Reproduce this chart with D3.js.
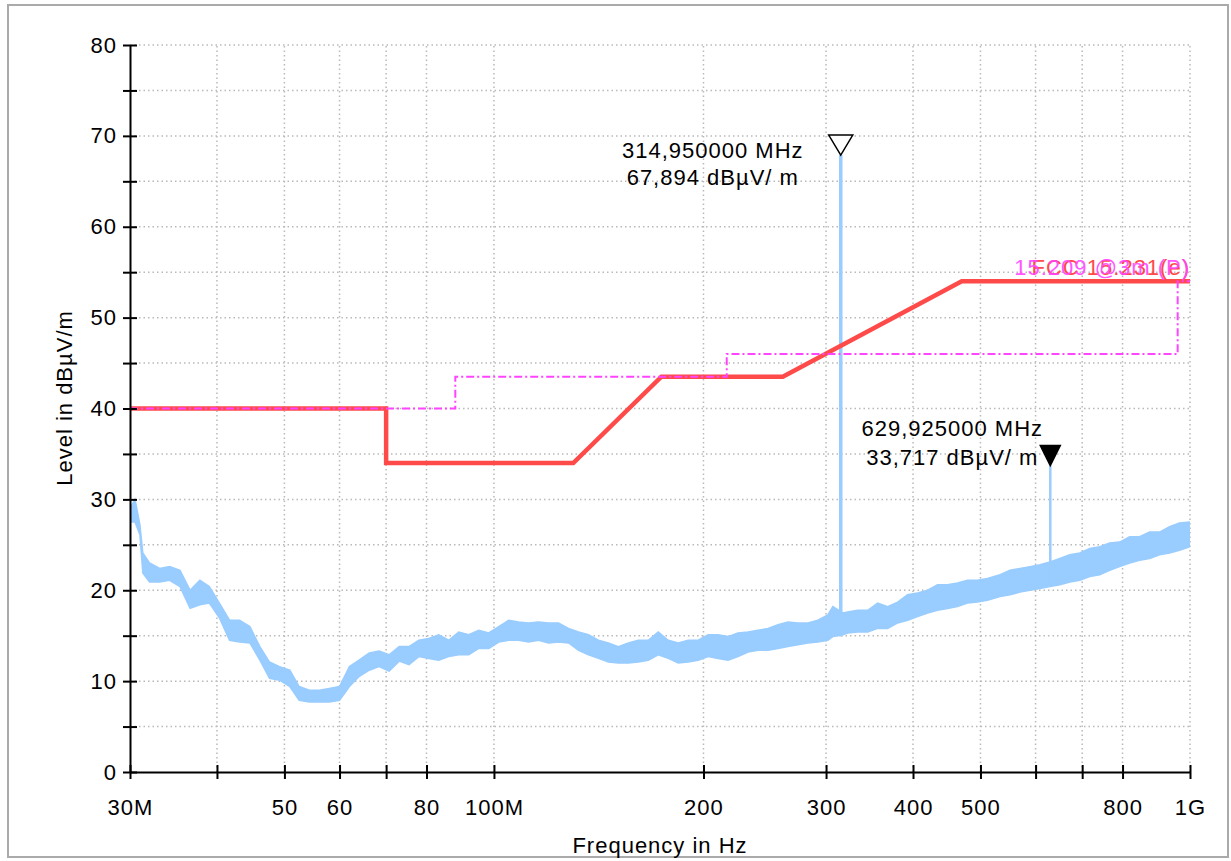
<!DOCTYPE html>
<html>
<head>
<meta charset="utf-8">
<script src="https://cdn.jsdelivr.net/npm/d3@7"></script>
<style>
body { margin: 0; background: #fff; }
svg text { font-family: "Liberation Sans", Arial, sans-serif; font-size: 22px; letter-spacing: 1px; fill: #000; }
</style>
</head>
<body>
<svg id="chart" width="1231" height="861"></svg>
<script>
// peak scan, envelope of the noisy trace (MHz / dBuV/m)
var traceFreq = [30.0, 30.5, 31.0, 31.3, 32.0, 33.1, 34.2, 35.4, 36.6, 37.8, 39.0, 40.3, 41.7, 43.1, 44.6, 46.1, 47.6, 49.2, 50.9, 52.5,
	54.3, 56.1, 58.0, 60.0, 62.0, 64.0, 66.2, 68.4, 70.7, 73.1, 75.5, 78.0, 80.6, 83.3, 86.1, 89.0, 92.0, 95.1, 98.3, 101.6,
	105.0, 108.5, 112.1, 115.9, 119.8, 123.8, 128.0, 132.3, 136.7, 141.3, 146.0, 150.9, 156.0, 161.2, 166.6, 172.2, 178.0, 184.0, 190.1, 196.5,
	203.1, 209.9, 216.9, 224.2, 231.8, 239.5, 247.6, 255.9, 264.5, 273.3, 282.5, 292.0, 301.8, 306.8, 317.1, 322.3, 333.1, 344.3, 355.9, 367.8,
	380.2, 392.9, 406.1, 419.8, 433.8, 448.4, 463.4, 479.0, 495.0, 511.6, 533.5, 551.4, 569.9, 589.0, 608.7, 629.2, 650.2, 672.0, 694.6, 717.8,
	741.9, 766.7, 792.4, 819.0, 846.5, 874.8, 904.2, 934.6, 965.6, 1000];
var traceLow = [27.5, 27.5, 26.1, 21.9, 20.9, 20.9, 21.1, 20.4, 18.0, 18.4, 18.6, 17.0, 14.5, 14.3, 14.2, 12.3, 10.3, 10.1, 9.4, 7.9,
	7.7, 7.7, 7.7, 7.9, 9.4, 10.5, 11.2, 11.6, 11.1, 12.2, 11.8, 12.7, 12.5, 12.3, 12.7, 12.9, 12.9, 13.6, 13.6, 14.3,
	14.5, 14.5, 14.3, 14.5, 14.2, 14.3, 14.2, 13.4, 12.9, 12.5, 12.1, 12.0, 12.0, 12.1, 12.3, 12.9, 12.5, 12.0, 12.1, 12.3,
	12.7, 12.5, 12.3, 12.7, 13.2, 13.4, 13.4, 13.6, 13.8, 14.0, 14.2, 14.3, 14.5, 14.9, 15.1, 15.3, 15.4, 15.4, 15.8, 15.8,
	16.4, 16.7, 17.1, 17.5, 17.8, 18.0, 18.2, 18.6, 18.7, 18.9, 19.3, 19.5, 19.8, 20.0, 20.2, 20.4, 20.6, 20.9, 21.1, 21.5,
	21.7, 22.2, 22.6, 23.0, 23.3, 23.5, 23.9, 24.1, 24.4, 24.8];
var traceHigh = [29.0, 30.0, 27.2, 24.1, 23.0, 22.4, 22.6, 22.2, 20.0, 21.1, 20.4, 18.6, 16.7, 16.7, 16.0, 13.8, 12.1, 11.6, 11.2, 9.4,
	9.0, 9.0, 9.2, 9.4, 11.6, 12.3, 13.1, 13.3, 12.9, 13.8, 13.8, 14.5, 14.7, 15.1, 14.5, 15.4, 15.1, 15.6, 15.3, 16.0,
	16.7, 16.5, 16.4, 16.5, 16.4, 16.4, 15.8, 15.4, 15.1, 14.5, 14.2, 13.8, 14.2, 14.5, 14.5, 15.4, 14.5, 14.2, 14.5, 14.5,
	15.1, 15.1, 14.9, 15.3, 15.4, 15.6, 15.8, 16.2, 16.5, 16.4, 16.4, 16.7, 17.3, 18.2, 17.5, 17.6, 17.8, 17.8, 18.6, 18.2,
	18.7, 19.5, 19.7, 20.0, 20.6, 20.6, 20.8, 21.1, 21.1, 21.3, 21.7, 22.2, 22.4, 22.6, 22.8, 23.1, 23.5, 23.9, 24.1, 24.6,
	24.8, 25.2, 25.3, 25.9, 25.9, 26.4, 26.4, 27.0, 27.4, 27.5];

// limit lines
var limitAFreq = [30, 70, 70, 130, 174, 260, 470, 1000];
var limitALevel = [40, 40, 34, 34, 43.5, 43.5, 54, 54];
var limitAName = "FCC 15.231(e)";
var limitBFreq = [30, 88, 88, 216, 216, 960, 960, 1000];
var limitBLevel = [40, 40, 43.5, 43.5, 46, 46, 54, 54];
var limitBName = "15.209 @3m (P)";

// markers
var markerFreq = [314.95, 629.925];
var markerLevel = [67.894, 33.717];

// axes
var xTickValues = [30, 40, 50, 60, 70, 80, 100, 200, 300, 400, 500, 600, 700, 800, 1000];
var xTickLabels = ["30M", "", "50", "60", "", "80", "100M", "200", "300", "400", "500", "", "", "800", "1G"];
var yTickValues = [0, 5, 10, 15, 20, 25, 30, 35, 40, 45, 50, 55, 60, 65, 70, 75, 80];
var yTickLabels = ["0", "", "10", "", "20", "", "30", "", "40", "", "50", "", "60", "", "70", "", "80"];

(function()
{
	var svg = d3.select("#chart");

	var pLeft = 130, pRight = 1190, pTop = 45, pBottom = 772;

	var x = d3.scaleLog().domain([30, 1000]).range([pLeft, pRight]);
	var y = d3.scaleLinear().domain([0, 80]).range([pBottom, pTop]);

	var fmt = d3.formatLocale({ decimal: ",", thousands: ".", grouping: [3], currency: ["", ""] });

	// outer frame
	svg.append("rect")
		.attr("x", 8).attr("y", 5).attr("width", 1220).attr("height", 852)
		.attr("fill", "#fff").attr("stroke", "#aaaaaa").attr("stroke-width", 2);

	svg.append("clipPath").attr("id", "plotclip")
		.append("rect").attr("x", pLeft).attr("y", pTop).attr("width", pRight - pLeft).attr("height", pBottom - pTop);

	// dotted grid
	var grid = svg.append("g").attr("stroke", "#b9b9b9").attr("stroke-width", 1.5).attr("stroke-dasharray", "1.5,3");
	grid.selectAll(".vg").data(xTickValues.slice(1)).enter().append("line")
		.attr("x1", function(d) { return x(d); }).attr("x2", function(d) { return x(d); })
		.attr("y1", y(0)).attr("y2", y(80));
	grid.selectAll(".hg").data(yTickValues.slice(1)).enter().append("line")
		.attr("x1", pLeft).attr("x2", pRight)
		.attr("y1", function(d) { return y(d); }).attr("y2", function(d) { return y(d); });

	var plot = svg.append("g").attr("clip-path", "url(#plotclip)");

	// trace envelope
	var traceIdx = d3.range(traceFreq.length);
	plot.append("path").datum(traceIdx)
		.attr("fill", "#99ccff").attr("stroke", "#99ccff").attr("stroke-width", 1.5)
		.attr("d", d3.area()
			.x(function(i) { return x(traceFreq[i]); })
			.y0(function(i) { return y(traceLow[i]); })
			.y1(function(i) { return y(traceHigh[i]); }));

	// spikes up to the marker levels
	var lowAt = function(f)
	{
		var i = d3.bisectLeft(traceFreq, f);
		return traceLow[Math.max(0, i - 1)];
	};
	plot.selectAll(".spike").data(markerFreq).enter().append("line")
		.attr("x1", function(d) { return x(d); }).attr("x2", function(d) { return x(d); })
		.attr("y1", function(d) { return y(lowAt(d)); })
		.attr("y2", function(d, i) { return y(markerLevel[i]); })
		.attr("stroke", "#99ccff").attr("stroke-width", function(d, i) { return i == 0 ? 3.5 : 2.5; });

	// limits
	var limitLine = function(fs, ls)
	{
		return d3.line()
			.x(function(i) { return x(fs[i]); })
			.y(function(i) { return y(ls[i]); })(d3.range(fs.length));
	};
	plot.append("path").attr("d", limitLine(limitAFreq, limitALevel))
		.attr("fill", "none").attr("stroke", "#ff4a4a").attr("stroke-width", 4.5);
	plot.append("path").attr("d", limitLine(limitBFreq, limitBLevel))
		.attr("fill", "none").attr("stroke", "#ff44ff").attr("stroke-width", 2)
		.attr("stroke-dasharray", "8,3,2,3");

	// limit names, overlapping at the right end as in the original plot
	svg.append("text").attr("x", x(1000)).attr("y", y(54) - 6).attr("text-anchor", "end")
		.style("fill", "#ff4a4a").text(limitAName);
	svg.append("text").attr("x", x(1000)).attr("y", y(54) - 6).attr("text-anchor", "end")
		.style("fill", "#ff44ff").style("opacity", 0.9).text(limitBName);

	// axes
	var yAxis = svg.append("g").attr("transform", "translate(" + pLeft + ",0)")
		.call(d3.axisLeft(y).tickValues(yTickValues).tickSize(7).tickSizeOuter(0).tickPadding(6)
			.tickFormat(function(d, i) { return yTickLabels[i]; }));
	yAxis.selectAll(".tick line").attr("x1", -7).attr("x2", 7);

	var xAxis = svg.append("g").attr("transform", "translate(0," + pBottom + ")")
		.call(d3.axisBottom(x).tickValues(xTickValues).tickSize(7).tickSizeOuter(0).tickPadding(20)
			.tickFormat(function(d, i) { return xTickLabels[i]; }));
	xAxis.selectAll(".tick line").attr("y1", -7).attr("y2", 7);

	svg.selectAll(".domain, .tick line").attr("stroke", "#000").attr("stroke-width", 2);

	// axis titles
	svg.append("text").attr("transform", "translate(72,398) rotate(-90)")
		.attr("text-anchor", "middle").text("Level in dB\u00b5V/m");
	svg.append("text").attr("x", (pLeft + pRight) / 2).attr("y", 853)
		.attr("text-anchor", "middle").text("Frequency in Hz");

	// markers and their readouts
	var labelPos = [{ dx: -128, dy: [3, 30] }, { dx: -98, dy: [-30, -1] }];
	var mk = svg.selectAll(".marker").data(markerFreq).enter().append("g")
		.attr("transform", function(d, i) { return "translate(" + x(d) + "," + y(markerLevel[i]) + ")"; });
	mk.append("path")
		.attr("d", function(d, i) { return i == 0 ? "M0,0L-12,-20L12,-20Z" : "M0,0L-10,-20L10,-20Z"; })
		.attr("fill", function(d, i) { return i == 0 ? "#fff" : "#000"; })
		.attr("stroke", "#000").attr("stroke-width", 1.5);
	mk.append("text").attr("text-anchor", "middle")
		.attr("x", function(d, i) { return labelPos[i].dx; })
		.attr("y", function(d, i) { return labelPos[i].dy[0]; })
		.text(function(d) { return fmt.format(".6f")(d) + " MHz"; });
	mk.append("text").attr("text-anchor", "middle")
		.attr("x", function(d, i) { return labelPos[i].dx; })
		.attr("y", function(d, i) { return labelPos[i].dy[1]; })
		.text(function(d, i) { return fmt.format(".3f")(markerLevel[i]) + " dB\u00b5V/ m"; });
})();
</script>
</body>
</html>
